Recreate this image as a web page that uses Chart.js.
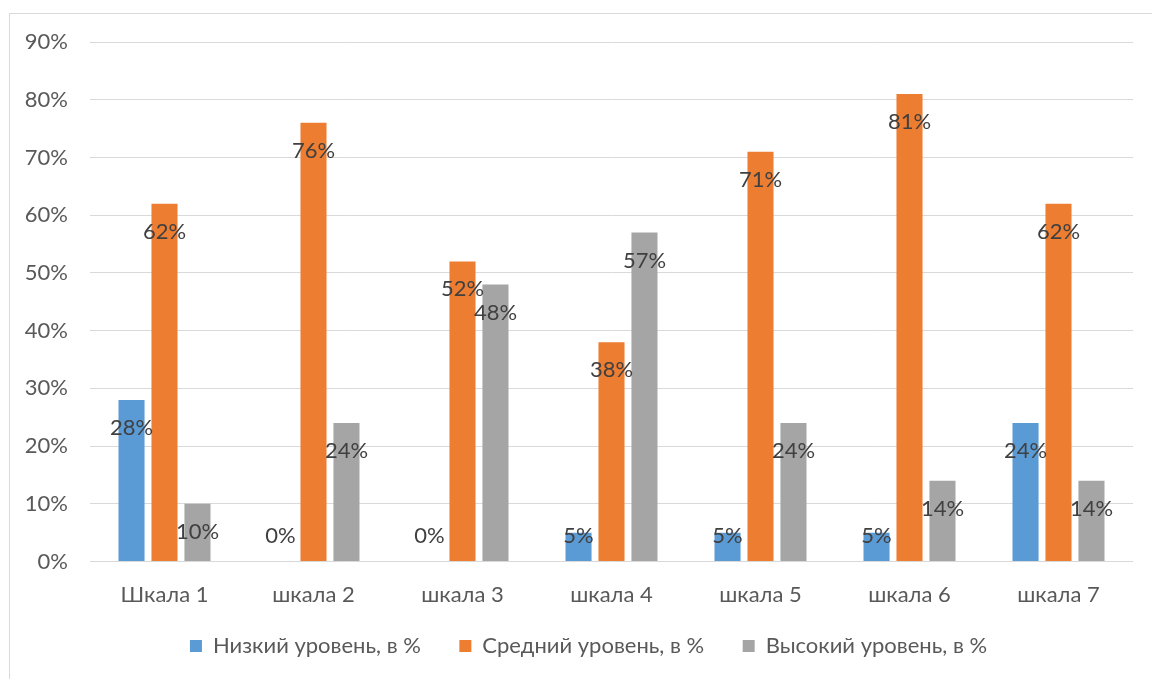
<!DOCTYPE html>
<html>
<head>
<meta charset="utf-8">
<script src="https://cdn.jsdelivr.net/npm/chart.js@4.4.0/dist/chart.umd.min.js"></script>
<style>
  html, body { margin: 0; padding: 0; background: #fff; }
  #wrap { position: relative; width: 1152px; height: 679px; }
  #frame { position: absolute; left: 9px; top: 13px; right: 0; bottom: 0; border-left: 1px solid #d9d9d9; border-top: 1px solid #d9d9d9; }
  canvas { position: absolute; left: 0; top: 0; }
</style>
</head>
<body>
<div id="wrap">
  <div id="frame"></div>
  <canvas id="myChart" width="1152" height="679"></canvas>
</div>
<script>
const categories = ['Шкала 1', 'шкала 2', 'шкала 3', 'шкала 4', 'шкала 5', 'шкала 6', 'шкала 7'];
const seriesNames = ['Низкий уровень, в %', 'Средний уровень, в %', 'Высокий уровень, в %'];
const lowValues = [28, 0, 0, 5, 5, 5, 24];
const midValues = [62, 76, 52, 38, 71, 81, 62];
const highValues = [10, 24, 48, 57, 24, 14, 14];
const colors = ['#5B9BD5', '#ED7D31', '#A5A5A5'];

const fontFamily = 'Lato, "Open Sans", sans-serif';
const fontSize = 22;

// labels drawn like excel "inside end"
const barLabels = {
    id: 'barLabels',
    afterDatasetsDraw(chart) {
        const ctx = chart.ctx;
        const bottom = chart.chartArea.bottom;
        ctx.save();
        ctx.font = fontSize + 'px ' + fontFamily;
        ctx.fillStyle = '#404040';
        ctx.textAlign = 'center';
        ctx.textBaseline = 'middle';
        chart.data.datasets.forEach((ds, i) => {
            chart.getDatasetMeta(i).data.forEach((bar, j) => {
                let y = Math.min(bar.y + 28, bottom - 26);
                ctx.fillText(ds.data[j] + '%', bar.x, y);
            });
        });
        ctx.restore();
    }
};

// nudge the legend box to where excel had it
const legendShift = {
    id: 'legendShift',
    afterLayout(chart) {
        const lg = chart.legend;
        lg.top -= 7;
        lg.bottom -= 7;
        lg.left += 22;
        lg.right += 22;
    }
};

new Chart(document.getElementById('myChart'), {
    type: 'bar',
    data: {
        labels: categories,
        datasets: [
            { label: seriesNames[0], data: lowValues, backgroundColor: colors[0] },
            { label: seriesNames[1], data: midValues, backgroundColor: colors[1] },
            { label: seriesNames[2], data: highValues, backgroundColor: colors[2] }
        ]
    },
    options: {
        responsive: false,
        animation: false,
        layout: { padding: { left: 0, right: 19, top: 42, bottom: 5 } },
        datasets: {
            bar: { categoryPercentage: 0.664, barPercentage: 0.79 }
        },
        scales: {
            x: {
                grid: { display: false },
                border: { display: false },
                ticks: { color: '#595959', font: { size: fontSize, family: fontFamily }, padding: 12 }
            },
            y: {
                min: 0,
                max: 90,
                afterFit(axis) { axis.width = 90; },
                grid: { color: '#d9d9d9', lineWidth: 1, drawTicks: false },
                border: { display: false },
                ticks: {
                    stepSize: 10,
                    padding: 22,
                    color: '#595959',
                    font: { size: fontSize, family: fontFamily },
                    callback: v => v + '%'
                }
            }
        },
        plugins: {
            legend: {
                position: 'bottom',
                labels: {
                    color: '#595959',
                    font: { size: fontSize, family: fontFamily },
                    boxWidth: 12,
                    boxHeight: 12,
                    padding: 22,
                    generateLabels(chart) {
                        const items = Chart.defaults.plugins.legend.labels.generateLabels(chart);
                        // em space after the first items so the gaps are wider than the row padding
                        items.forEach((it, i) => { if (i < items.length - 1) it.text += '\u2003'; });
                        return items;
                    }
                }
            },
            tooltip: { enabled: false }
        }
    },
    plugins: [barLabels, legendShift]
});
</script>
</body>
</html>
